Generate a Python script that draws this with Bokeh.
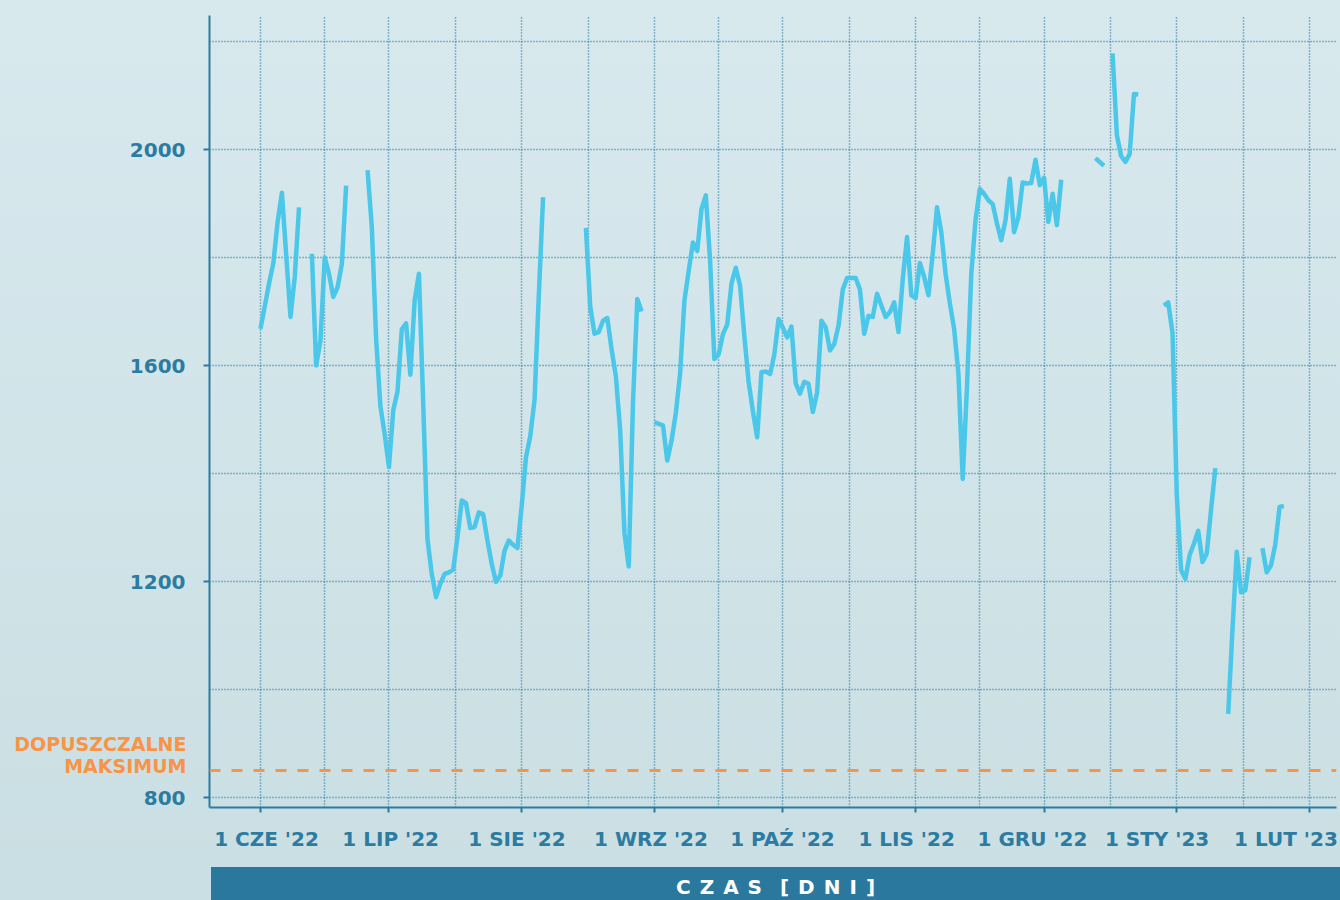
import math
from jinja2 import Template
from bokeh.plotting import figure
from bokeh.models import FixedTicker, Range1d, Span, Div, LinearAxis
from bokeh.layouts import column
from bokeh.embed import file_html
from bokeh.resources import INLINE

NAN = float("nan")

# ---- data (days counted from 1 June 2022) ----
month_start_days = [0, 30, 61, 92, 122, 153, 183, 214, 245]
month_labels = ["1 CZE '22", "1 LIP '22", "1 SIE '22", "1 WRZ '22", "1 PAŹ '22",
                "1 LIS '22", "1 GRU '22", "1 STY '23", "1 LUT '23"]
# where the month labels sit (in days)
label_days = [1.4, 30.4, 59.9, 91.2, 121.9, 150.9, 180.3, 209.4, 239.5]

y_label_ticks = [800, 1200, 1600, 2000]
y_grid_ticks = [800, 1000, 1200, 1400, 1600, 1800, 2000, 2200]

LIMIT = 850  # dopuszczalne maksimum
LIMIT_TEXT = "DOPUSZCZALNE\nMAKSIMUM"

days = list(range(0, 240))
values = [
    1668, 1710, 1752, 1790, 1866, 1920, 1805, 1690, 1764, 1893,          # 0-9
    NAN, NAN, 1807, 1600, 1646, 1800, 1770, 1727, 1745, 1788,            # 10-19
    1933, NAN, NAN, NAN, NAN, 1962, 1856, 1650, 1525, 1473,              # 20-29
    1412, 1517, 1552, 1667, 1678, 1583, 1720, 1770, 1530, 1278,          # 30-39
    1214, 1171, 1196, 1214, 1217, 1222, 1282, 1350, 1345, 1299,          # 40-49
    1301, 1328, 1325, 1276, 1233, 1199, 1211, 1257, 1276, 1268,          # 50-59
    1262, 1340, 1430, 1469, 1536, 1730, 1912, NAN, NAN, NAN,             # 60-69
    NAN, NAN, NAN, NAN, NAN, NAN, 1855, 1710, 1659, 1662,                # 70-79
    1683, 1688, 1630, 1580, 1480, 1290, 1228, 1533, 1723, 1700,          # 80-89
    NAN, NAN, 1495, 1492, 1489, 1424, 1461, 1512, 1585, 1720,            # 90-99
    1775, 1828, 1812, 1890, 1915, 1795, 1612, 1621, 1658, 1676,          # 100-109
    1752, 1781, 1748, 1655, 1570, 1515, 1467, 1588, 1589, 1584,          # 110-119
    1620, 1686, 1670, 1652, 1672, 1567, 1548, 1570, 1566, 1514,          # 120-129
    1550, 1683, 1671, 1628, 1640, 1674, 1741, 1762, 1762, 1762,          # 130-139
    1741, 1659, 1692, 1690, 1733, 1711, 1690, 1699, 1717, 1662,          # 140-149
    1760, 1838, 1730, 1725, 1790, 1764, 1730, 1807, 1893, 1847,          # 150-159
    1770, 1715, 1668, 1585, 1390, 1560, 1770, 1870, 1927, 1918,          # 160-169
    1906, 1899, 1863, 1832, 1869, 1946, 1847, 1875, 1939, 1937,          # 170-179
    1938, 1981, 1934, 1948, 1866, 1918, 1860, 1944, NAN, NAN,            # 180-189
    NAN, NAN, NAN, NAN, NAN, 1984, 1977, 1970, NAN, 2178,                # 190-199
    2027, 1988, 1977, 1992, 2103, 2102, NAN, NAN, NAN, NAN,              # 200-209
    NAN, 1711, 1717, 1660, 1360, 1221, 1205, 1249, 1270, 1294,           # 210-219
    1236, 1252, 1333, 1410, NAN, NAN, 955, 1110, 1255, 1180,             # 220-229
    1184, 1245, NAN, NAN, 1262, 1217, 1230, 1268, 1338, 1340,            # 230-239
]

# ---- styles ----
BLUE = "#2C7BA0"
LINE = "#4BC8E9"
ORANGE = "#F79448"
BAND = "#2B789E"
FONT = "DejaVu Sans"

# vertical grid: month starts and month midpoints
grid_days = list(month_start_days)
for a, b in zip(month_start_days[:-1], month_start_days[1:]):
    grid_days.append((a + b) / 2)
grid_days.sort()

p = figure(width=1340, height=867,
           x_range=Range1d(-11.91, 251.3), y_range=Range1d(781.5, 2248.2),
           output_backend="svg", toolbar_location=None,
           min_border_left=209, min_border_right=4, min_border_top=15, min_border_bottom=60,
           background_fill_alpha=0, border_fill_alpha=0, outline_line_color=None)

# grids
p.xgrid.ticker = FixedTicker(ticks=grid_days)
p.ygrid.ticker = FixedTicker(ticks=y_grid_ticks)
for g in (p.xgrid, p.ygrid):
    g.grid_line_color = BLUE
    g.grid_line_width = 1.5
    g.grid_line_dash = "1 2"

# x axis
xa = p.xaxis[0]
xa.ticker = FixedTicker(ticks=label_days, minor_ticks=month_start_days)
xa.major_label_overrides = {d: t for d, t in zip(label_days, month_labels)}
xa.major_tick_out = 0
xa.major_tick_in = 0
xa.minor_tick_out = 5
xa.minor_tick_in = 0
xa.minor_tick_line_color = BLUE
xa.minor_tick_line_width = 2
xa.axis_line_color = BLUE
xa.axis_line_width = 2
xa.major_label_standoff = 14
xa.major_label_text_font = FONT
xa.major_label_text_font_style = "bold"
xa.major_label_text_font_size = "20px"
xa.major_label_text_color = BLUE

# y axis
ya = p.yaxis[0]
ya.ticker = FixedTicker(ticks=y_label_ticks)
ya.major_tick_out = 6
ya.major_tick_in = 0
ya.major_tick_line_color = BLUE
ya.major_tick_line_width = 2
ya.minor_tick_out = 0
ya.minor_tick_in = 0
ya.axis_line_color = BLUE
ya.axis_line_width = 2
ya.major_label_standoff = 18
ya.major_label_text_font = FONT
ya.major_label_text_font_style = "bold"
ya.major_label_text_font_size = "20px"
ya.major_label_text_color = BLUE

# limit line
p.add_layout(Span(location=LIMIT, dimension="width", line_color=ORANGE,
                  line_width=3, line_dash="11 11"))

# data line
p.line(days, values, line_color=LINE, line_width=4.5, line_join="round", line_cap="butt")

# label of the limit line: an extra (label-only) left axis
label_pos = LIMIT + 28
la = LinearAxis(ticker=FixedTicker(ticks=[label_pos]),
                major_label_overrides={label_pos: LIMIT_TEXT},
                axis_line_color=None, major_tick_line_color=None, minor_tick_line_color=None,
                major_tick_out=0, major_tick_in=0, minor_tick_out=0, minor_tick_in=0,
                major_label_standoff=-60,
                major_label_text_font=FONT, major_label_text_font_style="bold",
                major_label_text_font_size="19px", major_label_text_color=ORANGE,
                major_label_text_line_height=1.0)
p.add_layout(la, "left")

band = Div(text="CZAS [DNI]", width=1129, height=33, margin=(0, 0, 0, 211),
           styles={"background-color": BAND, "color": "white", "font-family": FONT,
                   "font-weight": "bold", "font-size": "20px", "letter-spacing": "9px",
                   "word-spacing": "-7px", "text-indent": "9px", "text-align": "center",
                   "line-height": "40px", "overflow": "hidden"})

layout = column(p, band, spacing=0)

PAGE = Template("""{% extends base %}
{% block preamble %}<style>
html{height:100%;background:linear-gradient(180deg,#D8E9EE 0%,#CADFE3 100%);}
html,body{margin:0;padding:0;overflow:hidden;}
</style>{% endblock %}""")

open("out.html", "w").write(file_html(layout, INLINE, template=PAGE))
